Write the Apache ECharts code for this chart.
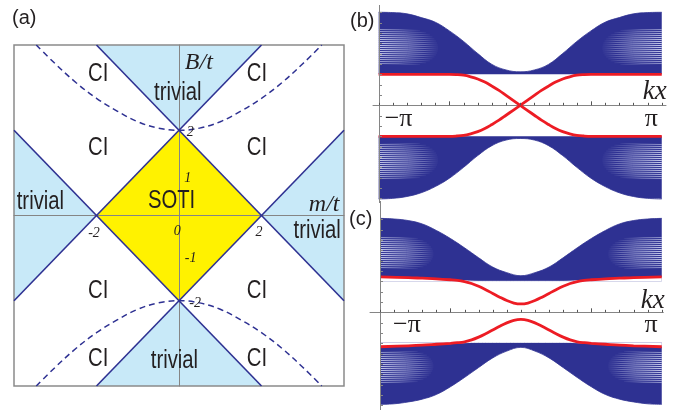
<!DOCTYPE html>
<html>
<head>
<meta charset="utf-8">
<script src="https://cdn.jsdelivr.net/npm/echarts@6/dist/echarts.min.js"></script>
<style>
  html, body { margin: 0; padding: 0; background: #ffffff; }
  #chart { width: 679px; height: 412px; }
</style>
</head>
<body>
<div id="chart"></div>
<script>
// ---------- (a) phase diagram in the (m/t, B/t) plane ----------
const sotiRegion = [[0, 2], [2, 0], [0, -2], [-2, 0]];
const trivialRegions = [
  [[0, 2], [-2, 4], [2, 4]],
  [[0, -2], [-2, -4], [2, -4]],
  [[-2, 0], [-4, 2], [-4, -2]],
  [[2, 0], [4, 2], [4, -2]]
];
const phaseBoundaries = [
  [[-4, -2], [2, 4]],
  [[-2, 4], [4, -2]],
  [[-2, -4], [4, 2]],
  [[-4, 2], [2, -4]]
];
const gapCurveUpper = [[-3.46, 4.0], [-3, 3.56], [-2.5, 3.12], [-2, 2.75], [-1.5, 2.45], [-1, 2.2], [-0.5, 2.05], [0, 2.0],
                       [0.5, 2.05], [1, 2.2], [1.5, 2.45], [2, 2.75], [2.5, 3.12], [3, 3.56], [3.46, 4.0]];
const gapCurveLower = [[-3.46, -4.0], [-3, -3.56], [-2.5, -3.12], [-2, -2.75], [-1.5, -2.45], [-1, -2.2], [-0.5, -2.05], [0, -2.0],
                       [0.5, -2.05], [1, -2.2], [1.5, -2.45], [2, -2.75], [2.5, -3.12], [3, -3.56], [3.46, -4.0]];
const regionNames = ['CI', 'CI', 'CI', 'CI', 'CI', 'CI', 'CI', 'CI', 'trivial', 'trivial', 'trivial', 'trivial', 'SOTI'];
const phaseTickLabels = ['2', '1', '0', '-1', '-2', '-2', '2'];
const phaseAxisNames = ['B/t', 'm/t'];

// ---------- (b), (c) ribbon spectra vs k_x (k_x in units of pi) ----------
const kx = [-1, -0.9, -0.8, -0.7, -0.6, -0.5, -0.4, -0.3, -0.2, -0.1, 0, 0.1, 0.2, 0.3, 0.4, 0.5, 0.6, 0.7, 0.8, 0.9, 1];

// (b): bulk band edges; the inner edges sit flat at +-1
const bUpperTop    = [3.00, 2.99, 2.95, 2.83, 2.68, 2.40, 2.06, 1.67, 1.32, 1.14, 1.08, 1.14, 1.32, 1.67, 2.06, 2.40, 2.68, 2.83, 2.95, 2.99, 3.00];
const bUpperInner  = 1.00;
const bLowerBottom = [-3.02, -3.00, -2.94, -2.82, -2.62, -2.35, -2.00, -1.62, -1.30, -1.12, -1.07, -1.12, -1.30, -1.62, -2.00, -2.35, -2.62, -2.82, -2.94, -3.00, -3.02];
const bLowerInner  = -1.00;

const bEdgeK       = [-1, -0.8, -0.6, -0.5, -0.45, -0.4, -0.35, -0.3, -0.25, -0.2, -0.15, -0.1, -0.05, 0,
                      0.05, 0.1, 0.15, 0.2, 0.25, 0.3, 0.35, 0.4, 0.45, 0.5, 0.6, 0.8, 1];
const bEdgeFalling = [1.00, 1.00, 1.00, 1.00, 0.99, 0.97, 0.92, 0.85, 0.75, 0.62, 0.48, 0.32, 0.16, 0,
                      -0.16, -0.32, -0.48, -0.62, -0.75, -0.85, -0.92, -0.97, -0.99, -1.00, -1.00, -1.00, -1.00];
const bEdgeRising  = [-1.00, -1.00, -1.00, -1.00, -0.99, -0.97, -0.92, -0.85, -0.75, -0.62, -0.48, -0.32, -0.16, 0,
                      0.16, 0.32, 0.48, 0.62, 0.75, 0.85, 0.92, 0.97, 0.99, 1.00, 1.00, 1.00, 1.00];

// (c): bulk band edges
const cUpperTop    = [3.03, 3.01, 2.96, 2.85, 2.64, 2.38, 2.08, 1.76, 1.46, 1.28, 1.18, 1.28, 1.46, 1.76, 2.08, 2.38, 2.64, 2.85, 2.96, 3.01, 3.03];
const cUpperBottom = [1.13, 1.12, 1.11, 1.09, 1.07, 1.04, 1.02, 1.00, 1.00, 1.00, 1.00, 1.00, 1.00, 1.00, 1.02, 1.04, 1.07, 1.09, 1.11, 1.12, 1.13];
const cUpperInner  = 1.00;
const cLowerTop    = [-1.10, -1.09, -1.08, -1.06, -1.04, -1.01, -0.98, -0.97, -0.97, -0.97, -0.97, -0.97, -0.97, -0.97, -0.98, -1.01, -1.04, -1.06, -1.08, -1.09, -1.10];
const cLowerBottom = [-2.97, -2.95, -2.89, -2.80, -2.65, -2.40, -2.10, -1.78, -1.47, -1.25, -1.13, -1.25, -1.47, -1.78, -2.10, -2.40, -2.65, -2.80, -2.89, -2.95, -2.97];
const cLowerInner  = -0.97;

const cEdgeK     = [-1, -0.8, -0.7, -0.6, -0.5, -0.45, -0.4, -0.35, -0.3, -0.25, -0.2, -0.15, -0.1, -0.05, 0,
                    0.05, 0.1, 0.15, 0.2, 0.25, 0.3, 0.35, 0.4, 0.45, 0.5, 0.6, 0.7, 0.8, 1];
const cEdgeUpper = [1.14, 1.12, 1.10, 1.08, 1.05, 1.03, 0.99, 0.93, 0.84, 0.73, 0.61, 0.49, 0.38, 0.30, 0.27,
                    0.30, 0.38, 0.49, 0.61, 0.73, 0.84, 0.93, 0.99, 1.03, 1.05, 1.08, 1.10, 1.12, 1.14];
const cEdgeLower = [-1.11, -1.08, -1.06, -1.03, -1.00, -0.98, -0.95, -0.89, -0.80, -0.69, -0.57, -0.45, -0.34, -0.26, -0.23,
                    -0.26, -0.34, -0.45, -0.57, -0.69, -0.80, -0.89, -0.95, -0.98, -1.00, -1.03, -1.06, -1.08, -1.11];

const kTicks = [-1, -0.9, -0.8, -0.7, -0.6, -0.5, -0.4, -0.3, -0.2, -0.1, 0, 0.1, 0.2, 0.3, 0.4, 0.5, 0.6, 0.7, 0.8, 0.9, 1];
const eTicks = [-3, -2.67, -2.33, -2, -1.67, -1.33, -1, -0.67, -0.33, 0.33, 0.67, 1, 1.33, 1.67, 2, 2.33, 2.67, 3];
const kTickLabels = ['\u2212\u03c0', '\u03c0'];
const kAxisName = 'kx';
const panelLetters = ['(a)', '(b)', '(c)'];

// ---------- layout and style ----------
const NAVY = '#2e3192';
const RED = '#ed1c24';
const YELLOW = '#fff200';
const LIGHT_BLUE = '#c8e9f8';
const AXIS_GRAY = '#858585';
const INK = '#231f20';
const SANS = '"Liberation Sans", Arial, sans-serif';
const SERIF = '"Liberation Serif", "Times New Roman", serif';

const regionNameAt = [[-1.96, 3.32], [1.89, 3.32], [-1.96, 1.58], [1.89, 1.58], [-1.96, -1.77], [1.89, -1.77],
                      [-1.96, -3.37], [1.89, -3.37], [-0.03, 2.87], [-3.36, 0.32], [3.35, -0.36], [-0.11, -3.41], [-0.18, 0.34]];
const phaseTickAt = [[0.27, 1.96], [0.21, 0.88], [-0.04, -0.36], [0.28, -1.0], [0.39, -2.05], [-2.06, -0.41], [1.94, -0.39]];
const phaseAxisNameAt = [[0.48, 3.58], [3.52, 0.25]];

const bStripeZones = [[-1, -0.58, 1.25, 2.45], [1, 0.58, 1.25, 2.45], [-1, -0.58, -2.45, -1.25], [1, 0.58, -2.45, -1.25]];
const cStripeZones = [[-1, -0.62, 1.36, 2.44], [1, 0.62, 1.36, 2.44], [-1, -0.62, -2.35, -1.27], [1, 0.62, -2.35, -1.27]];

const panelB = { grid: 1, yMin: -3.15, yMax: 3.235, minusDx: 6, piDx: -4, labelDy: 14, nameDx: 5, nameDy: -13 };
const panelC = { grid: 2, yMin: -3.15, yMax: 3.59, minusDx: 13, piDx: -4, labelDy: 13, nameDx: 3, nameDy: -11 };

const chart = echarts.init(document.getElementById('chart'), null, { renderer: 'canvas' });

function pts(xs, ys) { return xs.map((x, i) => [x, ys[i]]); }

const series = [];

// (a) filled phase regions
const phaseRegions = [sotiRegion].concat(trivialRegions);
series.push({
  type: 'custom', xAxisIndex: 0, yAxisIndex: 0, z: 1, silent: true,
  data: phaseRegions.map(r => r[0]),
  renderItem: (params, api) => ({
    type: 'polygon',
    shape: { points: phaseRegions[params.dataIndex].map(p => api.coord(p)) },
    style: { fill: params.dataIndex === 0 ? YELLOW : LIGHT_BLUE }
  })
});
// (a) phase boundaries
phaseBoundaries.forEach(seg => series.push({
  type: 'line', xAxisIndex: 0, yAxisIndex: 0, z: 4, silent: true, symbol: 'none',
  data: seg, lineStyle: { color: NAVY, width: 1.6 }
}));
// (a) dashed curves
[gapCurveUpper, gapCurveLower].forEach(curve => series.push({
  type: 'line', xAxisIndex: 0, yAxisIndex: 0, z: 4, silent: true, symbol: 'none', smooth: 0.4,
  data: curve, lineStyle: { color: NAVY, width: 1.5, type: [6, 4] }
}));
// (a) texts
const phaseTexts = [];
regionNames.forEach((t, i) => phaseTexts.push({ text: t, at: regionNameAt[i], font: '26px ' + SANS, sx: 0.78 }));
phaseTickLabels.forEach((t, i) => phaseTexts.push({ text: t, at: phaseTickAt[i], font: 'italic 14px ' + SERIF, sx: 1 }));
phaseAxisNames.forEach((t, i) => phaseTexts.push({ text: t, at: phaseAxisNameAt[i], font: 'italic 24px ' + SERIF, sx: 1 }));
series.push({
  type: 'custom', xAxisIndex: 0, yAxisIndex: 0, z: 6, silent: true,
  data: phaseTexts.map(t => t.at),
  renderItem: (params, api) => {
    const t = phaseTexts[params.dataIndex];
    const p = api.coord(t.at);
    return {
      type: 'text', x: p[0], y: p[1], scaleX: t.sx,
      style: { text: t.text, font: t.font, fill: INK, align: 'center', verticalAlign: 'middle' }
    };
  }
});

// (b), (c) bulk bands: area between the outer band edge and the inner gap edge
function bandFill(gridIdx, outer, inner, color, z) {
  series.push({
    type: 'line', xAxisIndex: gridIdx, yAxisIndex: gridIdx, z: z, silent: true, symbol: 'none',
    smooth: 0.4, data: pts(kx, outer),
    lineStyle: { color: color, width: 0.8 },
    areaStyle: { color: color, opacity: 1, origin: inner }
  });
}
bandFill(1, bUpperTop, bUpperInner, NAVY, 2);
bandFill(1, bLowerBottom, bLowerInner, NAVY, 2);
bandFill(2, cUpperTop, cUpperInner, NAVY, 2);
bandFill(2, cLowerBottom, cLowerInner, NAVY, 2);
// (c): the inner band edges bend away from the gap towards +-pi
bandFill(2, cUpperBottom, cUpperInner, '#ffffff', 3);
bandFill(2, cLowerTop, cLowerInner, '#ffffff', 3);

// light fringes inside the bulk bands
function stripeSeries(gridIdx, zones) {
  series.push({
    type: 'custom', xAxisIndex: gridIdx, yAxisIndex: gridIdx, z: 4, silent: true,
    data: zones.map(z => [z[0], z[2]]),
    renderItem: (params, api) => {
      const z = zones[params.dataIndex];
      const a = api.coord([z[0], z[3]]);
      const b = api.coord([z[1], z[2]]);
      const yTop = Math.min(a[1], b[1]);
      const yBot = Math.max(a[1], b[1]);
      const xEdge = a[0], xInner = b[0];
      const toGap = z[2] > 0 ? 1 : -1;
      const n = Math.floor((yBot - yTop) / 2);
      const children = [];
      for (let i = 0; i < n; i++) {
        const y = Math.round(yTop + i * 2) + 0.5;
        const u = 2 * (i + 0.5) / n - 1;
        const reach = 0.55 + 0.45 * Math.sqrt(1 - u * u);
        const xe = xEdge + (xInner - xEdge) * reach;
        const alpha = (0.5 + 0.35 * (1 - u * u)).toFixed(3);
        const ltr = xEdge < xe;
        const grad = new echarts.graphic.LinearGradient(ltr ? 0 : 1, 0, ltr ? 1 : 0, 0, [
          { offset: 0, color: 'rgba(232,236,255,' + alpha + ')' },
          { offset: 0.5, color: 'rgba(232,236,255,' + (alpha * 0.7).toFixed(3) + ')' },
          { offset: 1, color: 'rgba(232,236,255,0)' }
        ]);
        children.push({
          type: 'polyline',
          shape: { points: [[xEdge, y], [(xEdge + xe) / 2, y + toGap * 0.4 * reach], [xe, y + toGap * 1.5 * reach]] },
          style: { stroke: grad, lineWidth: 1, fill: null }
        });
      }
      return { type: 'group', children };
    }
  });
}
stripeSeries(1, bStripeZones);
stripeSeries(2, cStripeZones);

// edge states
function edge(gridIdx, ks, es) {
  series.push({
    type: 'line', xAxisIndex: gridIdx, yAxisIndex: gridIdx, z: 5, silent: true, symbol: 'none',
    smooth: 0.35, data: pts(ks, es), lineStyle: { color: RED, width: 2.8 }
  });
}
edge(1, bEdgeK, bEdgeFalling);
edge(1, bEdgeK, bEdgeRising);
edge(2, cEdgeK, cEdgeUpper);
edge(2, cEdgeK, cEdgeLower);

// energy axis, k_x ticks and labels for (b), (c)
function panelDecor(cfg) {
  series.push({
    type: 'custom', xAxisIndex: cfg.grid, yAxisIndex: cfg.grid, z: 6, silent: true,
    data: [[-1, 0]],
    renderItem: (params, api) => {
      const children = [];
      const top = api.coord([-1, cfg.yMax]);
      const bot = api.coord([-1, cfg.yMin]);
      const ax = Math.round(top[0]) + 0.5;
      children.push({ type: 'line', shape: { x1: ax, y1: top[1], x2: ax, y2: bot[1] }, style: { stroke: AXIS_GRAY, lineWidth: 1 } });
      kTicks.forEach(k => {
        const p = api.coord([k, 0]);
        const len = Math.abs(Math.abs(k) - 0.5) < 1e-6 ? 4 : 2.5;
        const x = Math.round(p[0]) + 0.5;
        children.push({ type: 'line', shape: { x1: x, y1: p[1], x2: x, y2: p[1] - len }, style: { stroke: '#555', lineWidth: 1 } });
      });
      eTicks.forEach(e => {
        const p = api.coord([-1, e]);
        const y = Math.round(p[1]) + 0.5;
        children.push({ type: 'line', shape: { x1: ax, y1: y, x2: ax + 2.5, y2: y }, style: { stroke: AXIS_GRAY, lineWidth: 1 } });
      });
      const L = api.coord([-1, 0]);
      const R = api.coord([1, 0]);
      children.push({ type: 'text', x: L[0] + cfg.minusDx, y: L[1] + cfg.labelDy,
        style: { text: kTickLabels[0], font: '26px ' + SERIF, fill: INK, align: 'left', verticalAlign: 'middle' } });
      children.push({ type: 'text', x: R[0] + cfg.piDx, y: R[1] + cfg.labelDy,
        style: { text: kTickLabels[1], font: '26px ' + SERIF, fill: INK, align: 'right', verticalAlign: 'middle' } });
      children.push({ type: 'text', x: R[0] + cfg.nameDx, y: R[1] + cfg.nameDy,
        style: { text: kAxisName, font: 'italic 27px ' + SERIF, fill: INK, align: 'right', verticalAlign: 'middle' } });
      return { type: 'group', children };
    }
  });
}
panelDecor(panelB);
panelDecor(panelC);

const hiddenAxis = { axisTick: { show: false }, axisLabel: { show: false }, splitLine: { show: false } };

chart.setOption({
  animation: false,
  backgroundColor: '#ffffff',
  grid: [
    { left: 14, top: 45, width: 330, height: 341, show: true, borderColor: '#8a8a8a', borderWidth: 1.5, backgroundColor: 'transparent', z: 3 },
    { left: 373, top: 5, width: 293, height: 198 },
    { left: 370, top: 201, width: 293.3, height: 209 }
  ],
  xAxis: [
    Object.assign({ type: 'value', gridIndex: 0, min: -4, max: 4, z: 3, axisLine: { show: true, onZero: true, lineStyle: { color: AXIS_GRAY, width: 1 } } }, hiddenAxis),
    Object.assign({ type: 'value', gridIndex: 1, min: -1.04, max: 1.03, z: 4, axisLine: { show: true, onZero: true, lineStyle: { color: AXIS_GRAY, width: 1 } } }, hiddenAxis),
    Object.assign({ type: 'value', gridIndex: 2, min: -1.071, max: 1.011, z: 4, axisLine: { show: true, onZero: true, lineStyle: { color: AXIS_GRAY, width: 1 } } }, hiddenAxis)
  ],
  yAxis: [
    Object.assign({ type: 'value', gridIndex: 0, min: -4, max: 4, z: 3, axisLine: { show: true, onZero: true, lineStyle: { color: AXIS_GRAY, width: 1 } } }, hiddenAxis),
    Object.assign({ type: 'value', gridIndex: 1, min: panelB.yMin, max: panelB.yMax, axisLine: { show: false } }, hiddenAxis),
    Object.assign({ type: 'value', gridIndex: 2, min: panelC.yMin, max: panelC.yMax, axisLine: { show: false } }, hiddenAxis)
  ],
  graphic: [
    { type: 'text', left: 12, top: 8, style: { text: panelLetters[0], font: '20px ' + SANS, fill: INK } },
    { type: 'text', left: 350, top: 11, style: { text: panelLetters[1], font: '20px ' + SANS, fill: INK } },
    { type: 'text', left: 349, top: 209, style: { text: panelLetters[2], font: '20px ' + SANS, fill: INK } }
  ],
  series: series
});
</script>
</body>
</html>
